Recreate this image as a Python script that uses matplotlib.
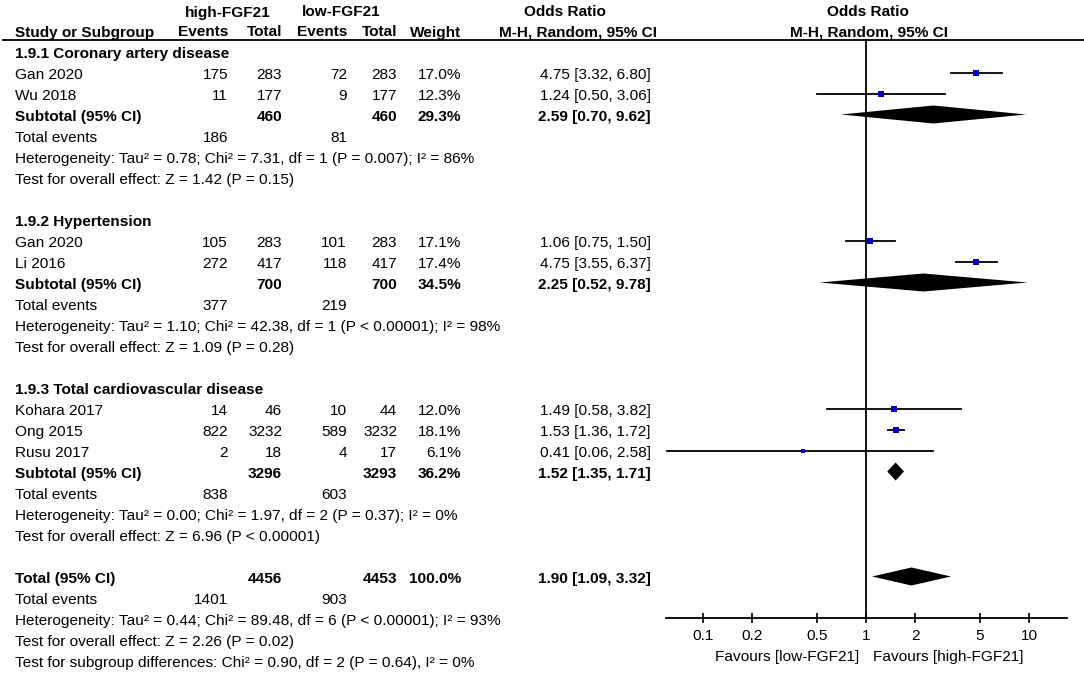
import matplotlib
matplotlib.use("Agg")
import matplotlib.pyplot as plt
import numpy as np

plt.rcParams["font.family"] = ["Liberation Sans", "DejaVu Sans"]

# ---- data ----
group_names = ["1.9.1 Coronary artery disease", "1.9.2 Hypertension",
               "1.9.3 Total cardiovascular disease"]
studies = [["Gan 2020", "Wu 2018"],
           ["Gan 2020", "Li 2016"],
           ["Kohara 2017", "Ong 2015", "Rusu 2017"]]
high_events = [[175, 11], [105, 272], [14, 822, 2]]
high_total = [[283, 177], [283, 417], [46, 3232, 18]]
low_events = [[72, 9], [101, 118], [10, 589, 4]]
low_total = [[283, 177], [283, 417], [44, 3232, 17]]
weights = [[17.0, 12.3], [17.1, 17.4], [12.0, 18.1, 6.1]]
odds = [[4.75, 1.24], [1.06, 4.75], [1.49, 1.53, 0.41]]
ci_low = [[3.32, 0.50], [0.75, 3.55], [0.58, 1.36, 0.06]]
ci_high = [[6.80, 3.06], [1.50, 6.37], [3.82, 1.72, 2.58]]

sub_high_total = [460, 700, 3296]
sub_low_total = [460, 700, 3293]
sub_weight = [29.3, 34.5, 36.2]
sub_or = [2.59, 2.25, 1.52]
sub_low = [0.70, 0.52, 1.35]
sub_high = [9.62, 9.78, 1.71]
sub_high_events = [186, 377, 838]
sub_low_events = [81, 219, 603]
sub_het = ["Heterogeneity: Tau² = 0.78; Chi² = 7.31, df = 1 (P = 0.007); I² = 86%",
           "Heterogeneity: Tau² = 1.10; Chi² = 42.38, df = 1 (P < 0.00001); I² = 98%",
           "Heterogeneity: Tau² = 0.00; Chi² = 1.97, df = 2 (P = 0.37); I² = 0%"]
sub_test = ["Test for overall effect: Z = 1.42 (P = 0.15)",
            "Test for overall effect: Z = 1.09 (P = 0.28)",
            "Test for overall effect: Z = 6.96 (P < 0.00001)"]

tot_high_total, tot_low_total = 4456, 4453
tot_weight = 100.0
tot_or, tot_low, tot_high = 1.90, 1.09, 3.32
tot_high_events, tot_low_events = 1401, 903
tot_het = "Heterogeneity: Tau² = 0.44; Chi² = 89.48, df = 6 (P < 0.00001); I² = 93%"
tot_test = "Test for overall effect: Z = 2.26 (P = 0.02)"
subgroup_test = "Test for subgroup differences: Chi² = 0.90, df = 2 (P = 0.64), I² = 0%"

tick_vals = [0.1, 0.2, 0.5, 1, 2, 5, 10]
tick_labels = ["0.1", "0.2", "0.5", "1", "2", "5", "10"]

# ---- layout (pixel coordinates) ----
W, H = 1084, 680
FS = 11.1
row0, step = 52.5, 21.0
x_study, x_he, x_ht, x_le, x_lt, x_w, x_or = 15, 228, 282, 347, 397, 461, 651
blue = "#0000c8"

fig = plt.figure(figsize=(W / 100, H / 100), dpi=100)
ax = fig.add_axes([0, 0, 1, 1])
ax.set_xlim(0, W)
ax.set_ylim(H, 0)
ax.axis("off")

fa = fig.add_axes([666 / W, (H - 618) / H, (1067 - 666) / W, (618 - 39) / H])
fa.set_xscale("log")
fa.set_xlim(10 ** -1.227, 10 ** 1.233)
fa.set_ylim(618, 39)
fa.patch.set_alpha(0)
for s in ["left", "right", "top"]:
    fa.spines[s].set_visible(False)
fa.spines["bottom"].set_linewidth(1.3)
fa.set_yticks([])
fa.set_xticks(tick_vals)
fa.set_xticklabels(tick_labels)
fa.xaxis.set_minor_locator(matplotlib.ticker.NullLocator())
fa.tick_params(axis="x", direction="inout", length=6.5, width=1.2, pad=5,
               labelsize=FS)
fa.axvline(1, color="black", lw=1.3)


def txt(x, y, s, ha="left", bold=False):
    ax.text(x, y, s, ha=ha, va="center_baseline", fontsize=FS,
            fontweight="bold" if bold else "normal")


# headers
txt(228, 11, "high-FGF21", ha="center", bold=True)
txt(341, 11, "low-FGF21", ha="center", bold=True)
txt(565, 11, "Odds Ratio", ha="center", bold=True)
txt(868, 11, "Odds Ratio", ha="center", bold=True)
txt(x_study, 31, "Study or Subgroup", bold=True)
txt(x_he, 31, "Events", ha="right", bold=True)
txt(x_ht, 31, "Total", ha="right", bold=True)
txt(x_le, 31, "Events", ha="right", bold=True)
txt(x_lt, 31, "Total", ha="right", bold=True)
txt(x_w, 31, "Weight", ha="right", bold=True)
txt(578, 31, "M-H, Random, 95% CI", ha="center", bold=True)
txt(869, 31, "M-H, Random, 95% CI", ha="center", bold=True)
ax.plot([3, W], [39.5, 39.5], color="black", lw=1.3)


def diamond(est, lo, hi, y, h=9):
    fa.fill([lo, est, hi, est], [y, y - h, y, y + h], color="black", lw=0)


row = 0
for g in range(len(group_names)):
    y = row0 + row * step
    txt(x_study, y, group_names[g], bold=True)
    row += 1
    for i, name in enumerate(studies[g]):
        y = row0 + row * step
        txt(x_study, y, name)
        txt(x_he, y, str(high_events[g][i]), ha="right")
        txt(x_ht, y, str(high_total[g][i]), ha="right")
        txt(x_le, y, str(low_events[g][i]), ha="right")
        txt(x_lt, y, str(low_total[g][i]), ha="right")
        txt(x_w, y, f"{weights[g][i]:.1f}%", ha="right")
        txt(x_or, y, f"{odds[g][i]:.2f} [{ci_low[g][i]:.2f}, {ci_high[g][i]:.2f}]",
            ha="right")
        fa.plot([ci_low[g][i], ci_high[g][i]], [y - 1, y - 1], color="black",
                lw=1.3)
        side = 1.5 * np.sqrt(weights[g][i]) / 1.389
        fa.plot(odds[g][i], y - 1, marker="s", ms=side, color=blue, mew=0)
        row += 1
    y = row0 + row * step
    txt(x_study, y, "Subtotal (95% CI)", bold=True)
    txt(x_ht, y, str(sub_high_total[g]), ha="right", bold=True)
    txt(x_lt, y, str(sub_low_total[g]), ha="right", bold=True)
    txt(x_w, y, f"{sub_weight[g]:.1f}%", ha="right", bold=True)
    txt(x_or, y, f"{sub_or[g]:.2f} [{sub_low[g]:.2f}, {sub_high[g]:.2f}]",
        ha="right", bold=True)
    diamond(sub_or[g], sub_low[g], sub_high[g], y - 1)
    row += 1
    y = row0 + row * step
    txt(x_study, y, "Total events")
    txt(x_he, y, str(sub_high_events[g]), ha="right")
    txt(x_le, y, str(sub_low_events[g]), ha="right")
    row += 1
    txt(x_study, row0 + row * step, sub_het[g])
    row += 1
    txt(x_study, row0 + row * step, sub_test[g])
    row += 2

y = row0 + row * step
txt(x_study, y, "Total (95% CI)", bold=True)
txt(x_ht, y, str(tot_high_total), ha="right", bold=True)
txt(x_lt, y, str(tot_low_total), ha="right", bold=True)
txt(x_w, y, f"{tot_weight:.1f}%", ha="right", bold=True)
txt(x_or, y, f"{tot_or:.2f} [{tot_low:.2f}, {tot_high:.2f}]", ha="right", bold=True)
diamond(tot_or, tot_low, tot_high, y - 1)
row += 1
y = row0 + row * step
txt(x_study, y, "Total events")
txt(x_he, y, str(tot_high_events), ha="right")
txt(x_le, y, str(tot_low_events), ha="right")
row += 1
txt(x_study, row0 + row * step, tot_het)
row += 1
txt(x_study, row0 + row * step, tot_test)
row += 1
txt(x_study, row0 + row * step, subgroup_test)

txt(859, 656, "Favours [low-FGF21]", ha="right")
txt(873, 656, "Favours [high-FGF21]")

fig.savefig("out.png", dpi=100)
plt.close(fig)
